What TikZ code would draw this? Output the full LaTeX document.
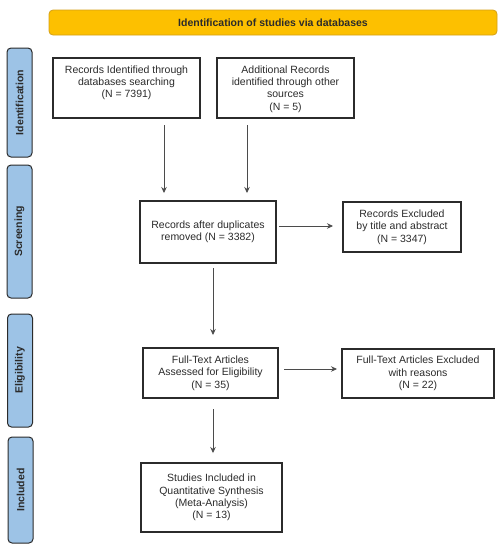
\documentclass[tikz,border=0pt]{standalone}
\usepackage{fontspec}
\setmainfont{Liberation Sans}
\usetikzlibrary{arrows.meta}
\definecolor{banner}{HTML}{FDC000}
\definecolor{bannerline}{HTML}{D4A017}
\definecolor{side}{HTML}{9DC3E6}
\definecolor{ink}{HTML}{2B2B2B}
\begin{document}
\begin{tikzpicture}[x=1pt,y=-1pt,
  every node/.style={font=\fontsize{10.5}{12.3}\selectfont, text=ink},
  box/.style={draw=ink, line width=1.1pt, fill=white, align=center, inner sep=0pt},
  sidebar/.style={draw=ink, line width=1pt, fill=side, rounded corners=4pt, inner sep=0pt},
  arr/.style={draw=ink!85, line width=0.7pt, -{Stealth[length=6pt,width=5.5pt]}},
  lbl/.style={font=\fontsize{10.5}{12.3}\selectfont\bfseries, text=ink, rotate=90}
]
\useasboundingbox (0,0) rectangle (504,550);
% banner
\node[draw=bannerline, line width=0.8pt, fill=banner, rounded corners=4pt, minimum width=448pt, minimum height=25pt, font=\fontsize{10.5}{12.3}\selectfont\bfseries] (ban) at (273,22.5) {Identification of studies via databases};
% side bars
\node[sidebar, minimum width=25pt, minimum height=109pt] (s1) at (19.5,102.5) {};
\node[lbl] (l1) at (s1) {Identification};
\node[sidebar, minimum width=25pt, minimum height=133pt] (s2) at (19.5,231.5) {};
\node[lbl] (l2) at (s2) {Screening};
\node[sidebar, minimum width=25pt, minimum height=113pt] (s3) at (20,370.5) {};
\node[lbl] (l3) at (s3) {Eligibility};
\node[sidebar, minimum width=25pt, minimum height=106pt] (s4) at (20.5,490) {};
\node[lbl] (l4) at (s4) {Included};
% boxes
\node[box, minimum width=147pt, minimum height=60pt] (b1) at (126.5,88) {};
\node[anchor=north, align=center] (t1) at (126.5,62) {Records Identified through\\databases searching\\(N = 7391)};
\node[box, minimum width=137pt, minimum height=60pt] (b2) at (285.5,88) {};
\node[anchor=north, align=center] (t2) at (285.5,62) {Additional Records\\identified through other\\sources\\(N = 5)};
\node[box, minimum width=136pt, minimum height=62pt] (b3) at (208,232) {};
\node[anchor=north, align=center] (t3) at (208,217.5) {Records after duplicates\\removed (N = 3382)};
\node[box, minimum width=118pt, minimum height=50pt, align=center] (b4) at (402,227) {Records Excluded\\by title and abstract\\(N = 3347)};
\node[box, minimum width=135pt, minimum height=50pt, align=center] (b5) at (210.5,373) {Full-Text Articles\\Assessed for Eligibility\\(N = 35)};
\node[box, minimum width=152pt, minimum height=49pt, align=center] (b6) at (418,373.5) {Full-Text Articles Excluded\\with reasons\\(N = 22)};
\node[box, minimum width=141pt, minimum height=69pt, align=center] (b7) at (211.5,497.5) {Studies Included in\\Quantitative Synthesis\\(Meta-Analysis)\\(N = 13)};
% arrows
\coordinate (a1s) at (164,125); \coordinate (a1e) at (164,193);
\coordinate (a2s) at (247,125); \coordinate (a2e) at (247,193);
\draw[arr] (a1s) -- (a1e);
\draw[arr] (a2s) -- (a2e);
\coordinate (a3s) at (279,226); \coordinate (a3e) at (333,226);
\draw[arr] (a3s) -- (a3e);
\coordinate (a4s) at (213,268); \coordinate (a4e) at (213,335);
\draw[arr] (a4s) -- (a4e);
\coordinate (a5s) at (284,369); \coordinate (a5e) at (337,369);
\draw[arr] (a5s) -- (a5e);
\coordinate (a6s) at (213,409); \coordinate (a6e) at (213,453);
\draw[arr] (a6s) -- (a6e);
\end{tikzpicture}
\end{document}
